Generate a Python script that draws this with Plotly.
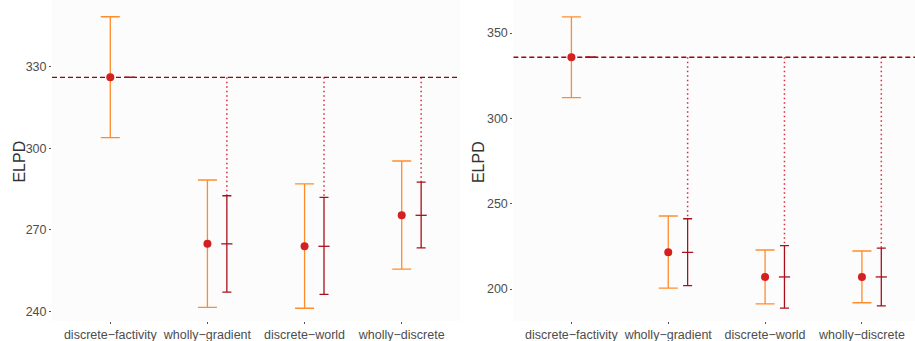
import plotly.graph_objects as go

models = ["discrete−factivity", "wholly−gradient", "discrete−world", "wholly−discrete"]

# Panel 1
elpd1 = [326.2, 264.9, 264.0, 275.4]
lo1 = [304.0, 241.5, 241.2, 255.6]
hi1 = [348.5, 288.4, 287.0, 295.4]
dlo1 = [326.2, 247.1, 246.3, 263.4]
dhi1 = [326.2, 282.6, 282.0, 287.6]

# Panel 2
elpd2 = [335.8, 221.5, 207.1, 207.1]
lo2 = [312.1, 200.6, 191.3, 192.0]
hi2 = [359.5, 242.8, 222.9, 222.3]
dlo2 = [335.8, 202.0, 188.8, 190.2]
dhi2 = [335.8, 241.2, 225.4, 224.0]

yticks1 = [240, 270, 300, 330]
yticks2 = [200, 250, 300, 350]

ORANGE = "#FF8C2B"
POINT = "#D42020"
DARKRED = "#A8101C"
DASH = "#950808"
DOT = "#D8283C"
FONT = "Liberation Sans, Arial, sans-serif"

fig = go.Figure()
W = 915

def add_panel(elpd, lo, hi, dlo, dhi, xa, ya):
    xs = list(range(len(models)))
    xd = [x + 0.2 for x in xs]
    # dotted connectors from reference level to top of difference interval
    cx, cy = [], []
    for i in range(1, len(models)):
        cx += [xd[i], xd[i], None]
        cy += [elpd[0], dhi[i], None]
    fig.add_trace(go.Scatter(x=cx, y=cy, mode="lines", xaxis=xa, yaxis=ya,
                             line=dict(color=DOT, width=1.5, dash="1.5px,3px"),
                             hoverinfo="skip", showlegend=False))
    # dashed reference line
    fig.add_trace(go.Scatter(x=[-0.6, 3.6], y=[elpd[0], elpd[0]], mode="lines",
                             xaxis=xa, yaxis=ya,
                             line=dict(color=DASH, width=1.3, dash="5px,3px"),
                             hoverinfo="skip", showlegend=False))
    # orange intervals with red points
    fig.add_trace(go.Scatter(
        x=xs, y=elpd, mode="markers", xaxis=xa, yaxis=ya,
        marker=dict(color=POINT, size=8),
        error_y=dict(type="data", symmetric=False,
                     array=[h - e for h, e in zip(hi, elpd)],
                     arrayminus=[e - l for e, l in zip(elpd, lo)],
                     color=ORANGE, thickness=1.3, width=9.5),
        showlegend=False))
    # difference intervals (dark red)
    fig.add_trace(go.Scatter(
        x=xd, y=elpd, mode="markers", xaxis=xa, yaxis=ya,
        marker=dict(symbol="line-ew", size=8, color=DARKRED,
                    line=dict(color=DARKRED, width=1.3)),
        error_y=dict(type="data", symmetric=False,
                     array=[h - e for h, e in zip(dhi, elpd)],
                     arrayminus=[e - l for e, l in zip(elpd, dlo)],
                     color=DARKRED, thickness=1.3, width=4.5),
        showlegend=False))

add_panel(elpd1, lo1, hi1, dlo1, dhi1, "x", "y")
add_panel(elpd2, lo2, hi2, dlo2, dhi2, "x2", "y2")

xcommon = dict(tickmode="array", tickvals=list(range(len(models))), ticktext=models,
               showgrid=False, zeroline=False, showline=False,
               ticks="outside", ticklen=2, tickwidth=1, tickcolor="#555555",
               tickfont=dict(family=FONT, size=12.5, color="#4D4D4D"))
ycommon = dict(showgrid=False, zeroline=False, showline=False,
               ticks="outside", ticklen=2, tickwidth=1, tickcolor="#555555",
               tickfont=dict(family=FONT, size=12.5, color="#4D4D4D"))

fig.update_layout(
    width=W, height=341,
    margin=dict(l=0, r=0, t=0, b=20),
    paper_bgcolor="white",
    plot_bgcolor="#FCFCFC",
    xaxis=dict(domain=[52 / W, 460 / W], range=[-0.6, 3.6], **xcommon),
    xaxis2=dict(domain=[513.3 / W, 1.0], range=[-0.6, 3.548], anchor="y2", **xcommon),
    yaxis=dict(range=[236.5, 354.66], tickvals=yticks1, anchor="x", **ycommon),
    yaxis2=dict(range=[181.3, 369.33], tickvals=yticks2, anchor="x2", **ycommon),
    annotations=[
        dict(text="ELPD", x=19.5 / W, y=0.495, xref="paper", yref="paper",
             textangle=-90, showarrow=False, xanchor="center", yanchor="middle",
             font=dict(family=FONT, size=16, color="#333333")),
        dict(text="ELPD", x=478 / W, y=0.495, xref="paper", yref="paper",
             textangle=-90, showarrow=False, xanchor="center", yanchor="middle",
             font=dict(family=FONT, size=16, color="#333333")),
    ],
)

fig.write_html("out.html")
